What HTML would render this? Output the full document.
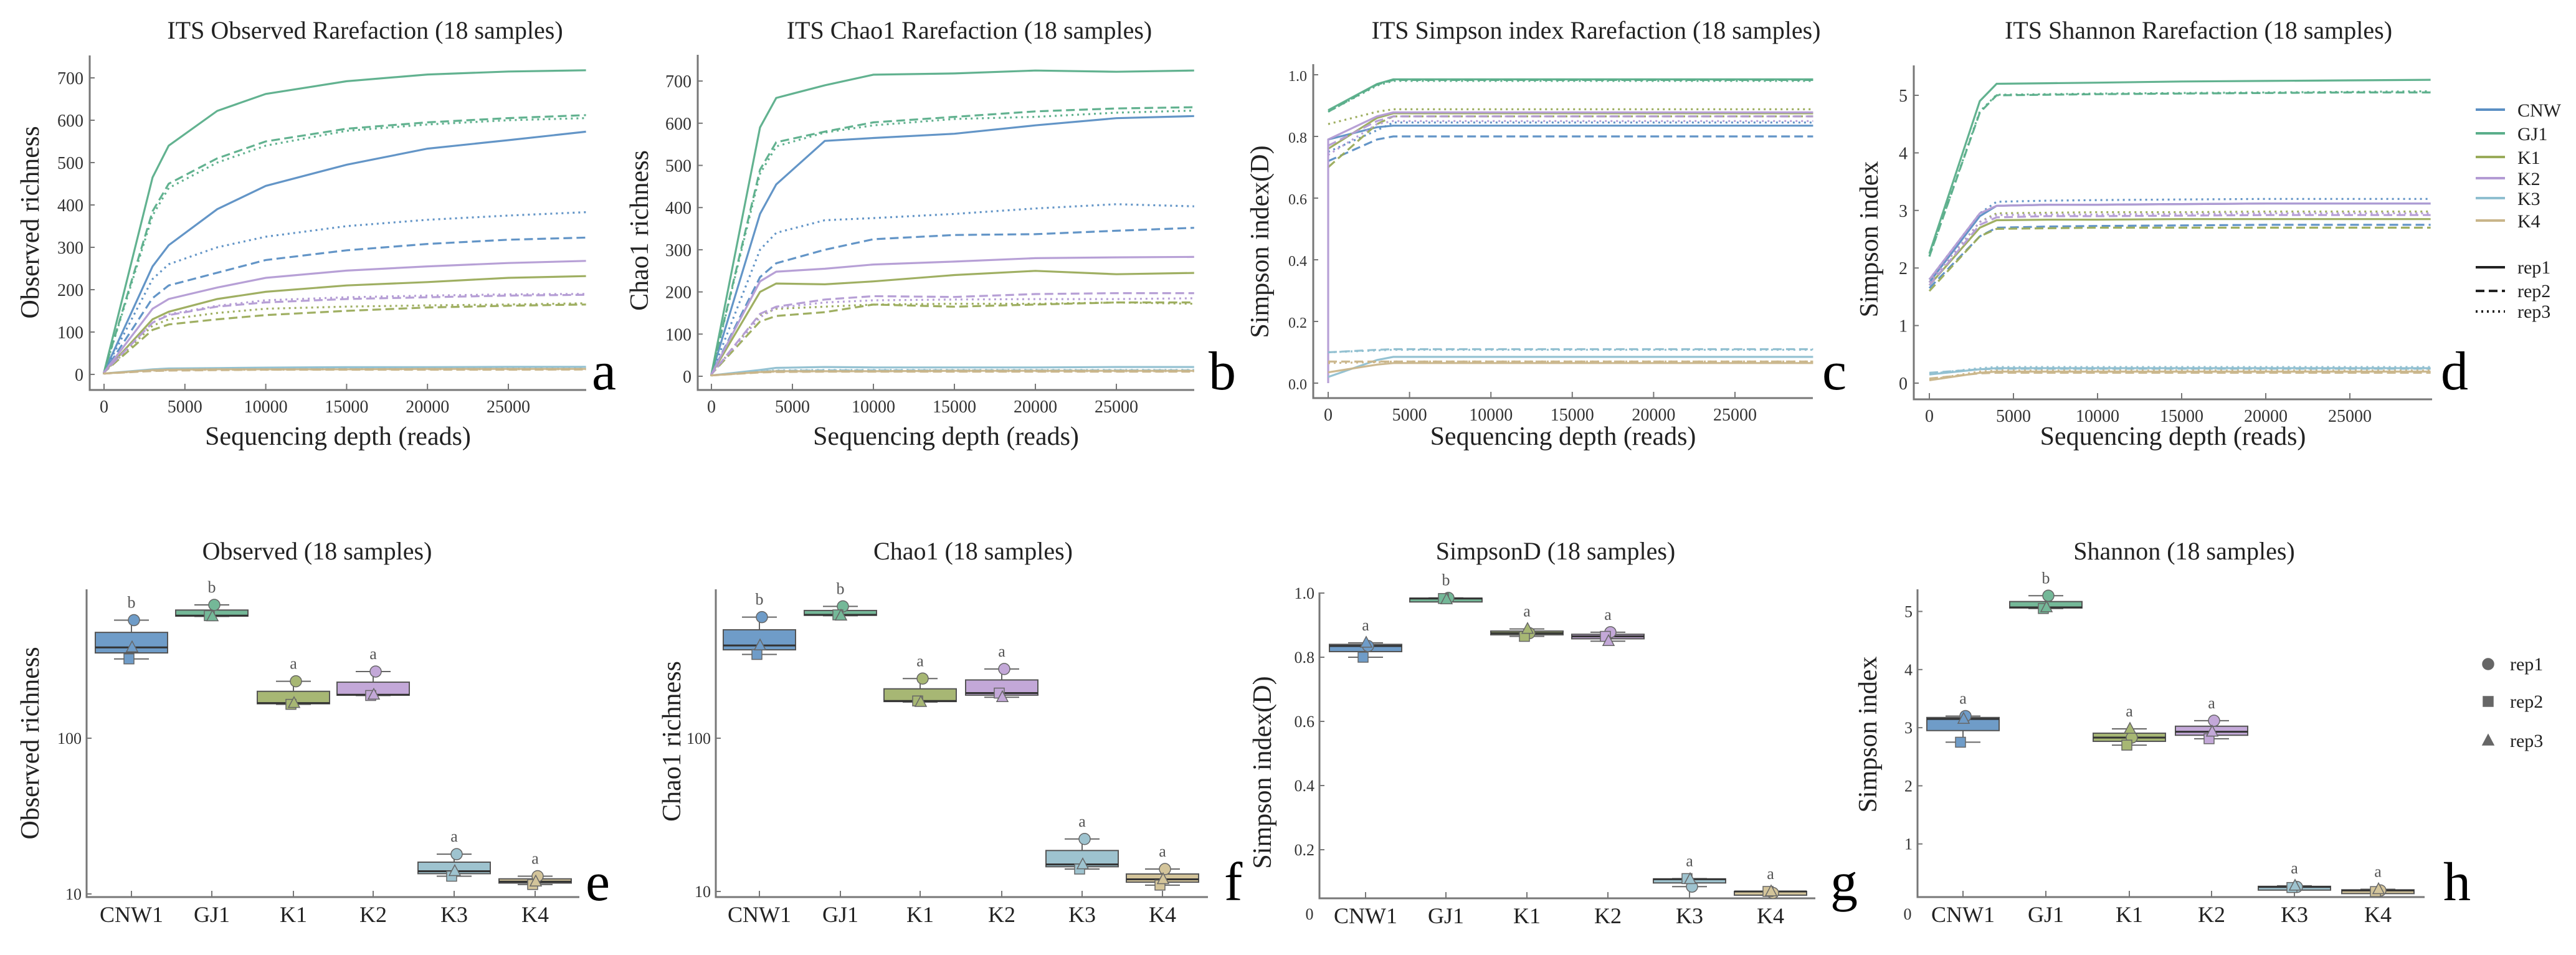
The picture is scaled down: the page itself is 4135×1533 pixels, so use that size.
<!DOCTYPE html>
<html><head><meta charset="utf-8"><style>
html,body{margin:0;padding:0;background:#fff;}
svg{display:block;font-family:"Liberation Serif",serif;}
</style></head><body>
<svg id="fig" width="4135" height="1533" viewBox="0 0 4135 1533" xmlns="http://www.w3.org/2000/svg"></svg>
<script>
const groups = ['CNW','GJ1','K1','K2','K3','K4'];
const boxCats = ['CNW1','GJ1','K1','K2','K3','K4'];
const depths = [0,1,3000,4000,7000,10000,15000,20000,25000,29800];
const xTicks = [0,5000,10000,15000,20000,25000];
// Observed rarefaction
const obsCNW = [[0,5,255,305,390,445,495,533,553,573],[0,5,180,210,240,270,293,308,318,323],[0,5,225,260,300,325,350,365,375,383]];
const obsGJ1 = [[0,5,465,540,622,662,692,708,715,718],[0,5,385,450,510,550,580,595,605,612],[0,5,375,440,500,540,575,590,600,605]];
const obsK1 = [[0,5,130,148,178,195,210,218,228,232],[0,5,105,118,130,140,150,158,162,165],[0,5,115,130,145,155,160,163,165,168]];
const obsK2 = [[0,5,155,178,205,228,245,255,263,268],[0,5,122,140,160,170,178,182,186,188],[0,5,122,142,162,175,182,186,189,190]];
const obsK3 = [[0,2,12,14,15,16,17,17,18,18],[0,2,9,11,12,12,13,13,13,13],[0,2,10,12,13,13,14,14,14,14]];
const obsK4 = [[0,2,10,11,12,12,12,13,13,13],[0,2,8,9,10,11,11,11,11,11.5],[0,2,9,10,11,11,12,12,12,12]];
// Chao1 rarefaction
const chaoCNW = [[0,5,385,455,558,565,575,595,612,617],[0,5,235,268,300,325,335,337,345,352],[0,5,300,340,370,375,385,398,408,403]];
const chaoGJ1 = [[0,5,590,660,690,715,718,725,722,725],[0,5,490,555,580,602,615,628,635,638],[0,5,480,545,578,595,610,615,625,630]];
const chaoK1 = [[0,5,200,220,218,225,240,250,242,245],[0,5,130,143,152,170,165,170,175,175],[0,5,145,160,165,170,172,172,175,172]];
const chaoK2 = [[0,5,225,248,255,265,272,280,282,283],[0,5,148,165,182,190,188,195,197,197],[0,5,140,162,175,180,182,183,183,185]];
const chaoK3 = [[0,2,15,20,22,21,21,21,22,22],[0,2,11,13,14,14,14,14,14,14],[0,2,12,14,15,15,15,15,15,15]];
const chaoK4 = [[0,2,10,12,12,12,13,13,13,13],[0,2,9,10,11,11,11,11,11,11],[0,2,10,11,12,12,12,12,12,12]];
// Simpson rarefaction
const simCNW = [[0.79,0.79,0.83,0.835,0.835,0.835,0.835,0.835,0.835,0.835],[0.72,0.72,0.79,0.80,0.80,0.80,0.80,0.80,0.80,0.80],[0.75,0.75,0.82,0.845,0.845,0.845,0.845,0.845,0.845,0.845]];
const simGJ1 = [[0.885,0.885,0.97,0.985,0.985,0.985,0.985,0.985,0.985,0.985],[0.88,0.88,0.968,0.983,0.983,0.983,0.983,0.983,0.983,0.983],[0.88,0.88,0.965,0.98,0.98,0.98,0.98,0.98,0.98,0.98]];
const simK1 = [[0.76,0.76,0.86,0.875,0.875,0.875,0.875,0.875,0.875,0.875],[0.70,0.70,0.84,0.865,0.865,0.865,0.865,0.865,0.865,0.865],[0.84,0.84,0.88,0.888,0.888,0.888,0.888,0.888,0.888,0.888]];
const simK2 = [[0,0.79,0.865,0.878,0.878,0.878,0.878,0.878,0.878,0.878],[0.77,0.77,0.85,0.865,0.865,0.865,0.865,0.865,0.865,0.865],[0.74,0.74,0.84,0.85,0.85,0.85,0.85,0.85,0.85,0.85]];
const simK3 = [[0.02,0.02,0.075,0.085,0.085,0.085,0.085,0.085,0.085,0.085],[0.10,0.10,0.108,0.11,0.11,0.11,0.11,0.11,0.11,0.11],[0.10,0.10,0.106,0.108,0.108,0.108,0.108,0.108,0.108,0.108]];
const simK4 = [[0.035,0.035,0.06,0.065,0.065,0.065,0.065,0.065,0.065,0.065],[0.07,0.07,0.07,0.07,0.07,0.07,0.07,0.07,0.07,0.07],[0.065,0.065,0.068,0.07,0.07,0.07,0.07,0.07,0.07,0.07]];
// Shannon rarefaction
const shaCNW = [[1.75,1.75,2.9,3.08,3.1,3.1,3.11,3.12,3.12,3.12],[1.65,1.65,2.55,2.7,2.72,2.73,2.74,2.75,2.75,2.75],[1.8,1.8,2.95,3.15,3.17,3.18,3.19,3.2,3.2,3.2]];
const shaGJ1 = [[2.25,2.25,4.9,5.2,5.21,5.22,5.24,5.25,5.26,5.27],[2.2,2.2,4.7,5.0,5.01,5.02,5.03,5.04,5.05,5.05],[2.2,2.2,4.72,5.01,5.02,5.03,5.04,5.05,5.06,5.07]];
const shaK1 = [[1.7,1.7,2.7,2.83,2.84,2.84,2.85,2.85,2.85,2.85],[1.6,1.6,2.55,2.68,2.69,2.7,2.7,2.7,2.7,2.7],[1.75,1.75,2.8,2.95,2.96,2.97,2.97,2.98,2.98,2.98]];
const shaK2 = [[1.8,1.8,2.95,3.08,3.1,3.1,3.11,3.12,3.12,3.12],[1.7,1.7,2.75,2.88,2.9,2.9,2.91,2.92,2.92,2.92],[1.75,1.75,2.8,2.92,2.93,2.93,2.94,2.95,2.95,2.95]];
const shaK3 = [[0.15,0.15,0.24,0.26,0.26,0.26,0.26,0.26,0.26,0.26],[0.18,0.18,0.24,0.25,0.25,0.25,0.25,0.25,0.25,0.25],[0.16,0.16,0.26,0.28,0.28,0.28,0.28,0.28,0.28,0.28]];
const shaK4 = [[0.05,0.05,0.18,0.2,0.2,0.2,0.2,0.2,0.2,0.2],[0.08,0.08,0.17,0.18,0.18,0.18,0.18,0.18,0.18,0.18],[0.06,0.06,0.2,0.22,0.22,0.22,0.22,0.22,0.22,0.22]];
// Box plot replicate values (per group)
const boxObsRep1 = [573,718,232,268,18,13];
const boxObsRep2 = [323,612,165,188,13,11.5];
const boxObsRep3 = [383,605,168,190,14,12];
const boxChaoRep1 = [617,725,245,283,22,14];
const boxChaoRep2 = [352,638,175,197,14,11];
const boxChaoRep3 = [403,630,172,185,15,12];
const boxSimRep1 = [0.835,0.985,0.875,0.878,0.085,0.065];
const boxSimRep2 = [0.80,0.983,0.865,0.865,0.11,0.07];
const boxSimRep3 = [0.845,0.98,0.888,0.85,0.108,0.07];
const boxShaRep1 = [3.2,5.27,2.83,3.12,0.26,0.2];
const boxShaRep2 = [2.75,5.05,2.70,2.81,0.25,0.18];
const boxShaRep3 = [3.15,5.07,2.98,2.93,0.28,0.22];
const lettersObs = ['b','b','a','a','a','a'];
const lettersChao = ['b','b','a','a','a','a'];
const lettersSim = ['a','b','a','a','a','a'];
const lettersSha = ['a','b','a','a','a','a'];

const lineColors = ['#5b8fc4','#5aae8a','#9aab5a','#b39bd4','#8fbfd0','#c9b58a'];
const boxFills = ['#6f9cc8','#74b898','#a7b774','#c3a8d8','#9ec3cf','#d3c49a'];
const dashes = ['none','14 7','3 6'];
const repNames = ['rep1','rep2','rep3'];
const NS = 'http://www.w3.org/2000/svg';
const svg = document.getElementById('fig');
function mk(tag, attrs, parent, txt){const e=document.createElementNS(NS,tag);for(const k in attrs)e.setAttribute(k,attrs[k]);if(txt!==undefined)e.textContent=txt;(parent||svg).appendChild(e);return e;}

function rarePanel(c, data){
  const g = mk('g',{});
  
  
  const sx = d => c.x0 + d/1000*c.k;
  const sy = v => c.y0 - v*c.yk;
  const t = mk('text',{x:c.titleX,y:62,'font-size':40,'text-anchor':'middle',fill:'#222'},g,c.title);
  
  
  const yl = mk('text',{x:0,y:0,'font-size':42,'text-anchor':'middle',fill:'#222',transform:`translate(${c.ylabX},${c.ylabY}) rotate(-90)`},g,c.ylab);
  
  
  const xl = mk('text',{x:(c.axisX+c.right)/2,y:714,'font-size':42,'text-anchor':'middle',fill:'#222'},g,'Sequencing depth (reads)');
  
  
  const ax = mk('path',{d:`M${c.axisX},${c.top} V${c.axisY} H${c.right}`,stroke:'#777','stroke-width':3,fill:'none'},g);
  
  
  xTicks.forEach(v=>{
    const tk = mk('line',{x1:sx(v),x2:sx(v),y1:c.axisY,y2:c.axisY-10,stroke:'#777','stroke-width':2},g);
    
    
    const tl = mk('text',{x:sx(v),y:c.axisY+36,'font-size':28,'text-anchor':'middle',fill:'#333'},g,String(v));
    
    
  });
  c.yTicks.forEach(v=>{
    const tk = mk('line',{x1:c.axisX,x2:c.axisX+8,y1:sy(v),y2:sy(v),stroke:'#777','stroke-width':2},g);
    
    
    const tl = mk('text',{x:c.axisX-10,y:sy(v)+10,'font-size':c.yFont||28,'text-anchor':'end',fill:'#333'},g,c.fmt(v));
    
    
  });
  data.forEach((reps,gi)=>{
    reps.forEach((vals,ri)=>{
      const pts = vals.map((v,i)=>`${sx(depths[i]).toFixed(1)},${sy(v).toFixed(1)}`).join(' ');
      const pl = mk('polyline',{points:pts,fill:'none',stroke:lineColors[gi],'stroke-width':3.2,'stroke-dasharray':dashes[ri],'stroke-opacity':0.95},g);
      
      
    });
  });
  const lt = mk('text',{x:c.letterX,y:625,'font-size':88,fill:'#000'},g,c.letter);
  
  
}

rarePanel({id:'observed-rarefaction',x0:167,k:25.96,y0:601,yk:0.68,axisX:144,axisY:626,top:89,right:941,yTicks:[0,100,200,300,400,500,600,700],fmt:v=>String(v),title:'ITS Observed Rarefaction (18 samples)',titleX:586,ylab:'Observed richness',ylabX:62,ylabY:357,letter:'a',letterX:950},[obsCNW,obsGJ1,obsK1,obsK2,obsK3,obsK4]);
rarePanel({id:'chao1-rarefaction',x0:1142,k:26.0,y0:604,yk:0.677,axisX:1120,axisY:626,top:88,right:1917,yTicks:[0,100,200,300,400,500,600,700],fmt:v=>String(v),title:'ITS Chao1 Rarefaction (18 samples)',titleX:1556,ylab:'Chao1 richness',ylabX:1040,ylabY:370,letter:'b',letterX:1940},[chaoCNW,chaoGJ1,chaoK1,chaoK2,chaoK3,chaoK4]);
rarePanel({id:'simpson-rarefaction',x0:2132,k:26.12,y0:615,yk:495,axisX:2108,axisY:639,top:103,right:2910,yTicks:[0,0.2,0.4,0.6,0.8,1.0],fmt:v=>v.toFixed(1),yFont:24,title:'ITS Simpson index Rarefaction (18 samples)',titleX:2562,ylab:'Simpson index(D)',ylabX:2036,ylabY:388,letter:'c',letterX:2925},[simCNW,simGJ1,simK1,simK2,simK3,simK4]);
rarePanel({id:'shannon-rarefaction',x0:3097,k:27.0,y0:615,yk:92.4,axisX:3072,axisY:641,top:105,right:3904,yTicks:[0,1,2,3,4,5],fmt:v=>String(v),title:'ITS Shannon Rarefaction (18 samples)',titleX:3529,ylab:'Simpson index',ylabX:3014,ylabY:384,letter:'d',letterX:3918},[shaCNW,shaGJ1,shaK1,shaK2,shaK3,shaK4]);

// top legend
const legY = [176,214,252,286,318,354];
groups.forEach((gname,i)=>{
  const l = mk('line',{x1:3974,x2:4021,y1:legY[i],y2:legY[i],stroke:lineColors[i],'stroke-width':4});
  
  
  const t = mk('text',{x:4041,y:legY[i]+11,'font-size':30,fill:'#222'},null,gname);
  
  
});
const repY = [429,467,500];
repNames.forEach((r,i)=>{
  const l = mk('line',{x1:3974,x2:4021,y1:repY[i],y2:repY[i],stroke:'#222','stroke-width':4,'stroke-dasharray':dashes[i]});
  
  
  const t = mk('text',{x:4041,y:repY[i]+10,'font-size':30,fill:'#222'},null,r);
  
  
});

function marker(shape, x, y, fill, parent){
  if(shape===0) return mk('circle',{cx:x,cy:y,r:9,fill:fill,stroke:'#666','stroke-width':1.5},parent);
  if(shape===1) return mk('rect',{x:x-8,y:y-8,width:16,height:16,fill:fill,stroke:'#666','stroke-width':1.5},parent);
  return mk('path',{d:`M${x},${y-10} L${x+9},${y+7} L${x-9},${y+7} Z`,fill:fill,stroke:'#666','stroke-width':1.5},parent);
}

function boxPanel(c, r1, r2, r3, letters){
  const g = mk('g',{});
  
  
  const t = mk('text',{x:c.titleX,y:898,'font-size':40,'text-anchor':'middle',fill:'#222'},g,c.title);
  
  
  const yl = mk('text',{x:0,y:0,'font-size':42,'text-anchor':'middle',fill:'#222',transform:`translate(${c.ylabX},${c.ylabY}) rotate(-90)`},g,c.ylab);
  
  
  const ax = mk('path',{d:`M${c.axisX},${c.top} V${c.axisY} H${c.right}`,stroke:'#777','stroke-width':3,fill:'none'},g);
  
  
  c.yTicks.forEach(v=>{
    const tk = mk('line',{x1:c.axisX,x2:c.axisX+8,y1:c.sy(v),y2:c.sy(v),stroke:'#777','stroke-width':2},g);
    
    
    const tl = mk('text',{x:c.axisX-8,y:c.sy(v)+9,'font-size':26,'text-anchor':'end',fill:'#333'},g,c.fmt(v));
    
    
  });
  if(c.zeroLabel){
    const z = mk('text',{x:c.axisX-16,y:1476,'font-size':26,'text-anchor':'middle',fill:'#333'},g,'0');
    
    
  }
  boxCats.forEach((cat,i)=>{
    const cx = c.cats[i];
    const tk = mk('line',{x1:cx,x2:cx,y1:c.axisY,y2:c.axisY-10,stroke:'#777','stroke-width':2},g);
    
    
    const tl = mk('text',{x:cx,y:c.axisY+40,'font-size':36,'text-anchor':'middle',fill:'#222'},g,cat);
    
    
    const vals = [r1[i],r2[i],r3[i]];
    const s = vals.slice().sort((a,b)=>a-b);
    const q1 = s[0]+0.5*(s[1]-s[0]), med = s[1], q3 = s[1]+0.5*(s[2]-s[1]);
    const w = 116;
    const wh = mk('line',{x1:cx,x2:cx,y1:c.sy(s[2]),y2:c.sy(s[0]),stroke:'#666','stroke-width':2},g);
    
    
    [s[0],s[2]].forEach(v=>{
      const cap = mk('line',{x1:cx-28,x2:cx+28,y1:c.sy(v),y2:c.sy(v),stroke:'#666','stroke-width':2},g);
      
      
    });
    const yTop = c.sy(q3), yBot = c.sy(q1);
    const bx = mk('rect',{x:cx-w/2,y:yTop,width:w,height:Math.max(yBot-yTop,6),fill:boxFills[i],stroke:'#555','stroke-width':2},g);
    
    
    const md = mk('line',{x1:cx-w/2,x2:cx+w/2,y1:c.sy(med),y2:c.sy(med),stroke:'#333','stroke-width':3},g);
    
    
    const offs = [4,-4,1];
    vals.forEach((v,ri)=>{
      const m = marker(ri, cx+offs[ri], c.sy(v), boxFills[i], g);
      
      
    });
    const lt = mk('text',{x:cx,y:c.sy(s[2])-20,'font-size':26,'text-anchor':'middle',fill:'#555'},g,letters[i]);
    
    
  });
  const pl = mk('text',{x:c.letterX,y:1445,'font-size':88,fill:'#000'},g,c.letter);
  
  
}

boxPanel({id:'observed-box',axisX:139,top:946,axisY:1440,right:930,cats:[211,340,471,599,729,859],sy:v=>1435-250*(Math.log10(v)-1),yTicks:[10,100],fmt:v=>String(v),title:'Observed (18 samples)',titleX:509,ylab:'Observed richness',ylabX:62,ylabY:1193,letter:'e',letterX:940},boxObsRep1,boxObsRep2,boxObsRep3,lettersObs);
boxPanel({id:'chao1-box',axisX:1149,top:946,axisY:1440,right:1939,cats:[1219,1349,1477,1608,1737,1866],sy:v=>1431-246*(Math.log10(v)-1),yTicks:[10,100],fmt:v=>String(v),title:'Chao1 (18 samples)',titleX:1562,ylab:'Chao1 richness',ylabX:1092,ylabY:1190,letter:'f',letterX:1965},boxChaoRep1,boxChaoRep2,boxChaoRep3,lettersChao);
boxPanel({id:'simpson-box',axisX:2118,top:951,axisY:1442,right:2914,cats:[2192,2321,2451,2581,2712,2842],sy:v=>1467-515*v,yTicks:[0.2,0.4,0.6,0.8,1.0],fmt:v=>v.toFixed(1),zeroLabel:true,title:'SimpsonD (18 samples)',titleX:2497,ylab:'Simpson index(D)',ylabX:2040,ylabY:1240,letter:'g',letterX:2938},boxSimRep1,boxSimRep2,boxSimRep3,lettersSim);
boxPanel({id:'shannon-box',axisX:3078,top:946,axisY:1440,right:3892,cats:[3151,3284,3418,3550,3683,3817],sy:v=>1448-93.3*v,yTicks:[1,2,3,4,5],fmt:v=>String(v),zeroLabel:true,title:'Shannon (18 samples)',titleX:3506,ylab:'Simpson index',ylabX:3012,ylabY:1179,letter:'h',letterX:3922},boxShaRep1,boxShaRep2,boxShaRep3,lettersSha);

// bottom legend
const repLegY = [1066,1126,1189];
repNames.forEach((r,i)=>{
  const m = marker(i, 3994, repLegY[i], '#666', null);
  
  
  const t = mk('text',{x:4029,y:repLegY[i]+10,'font-size':30,fill:'#222'},null,r);
  
  
});
</script>
</body></html>
